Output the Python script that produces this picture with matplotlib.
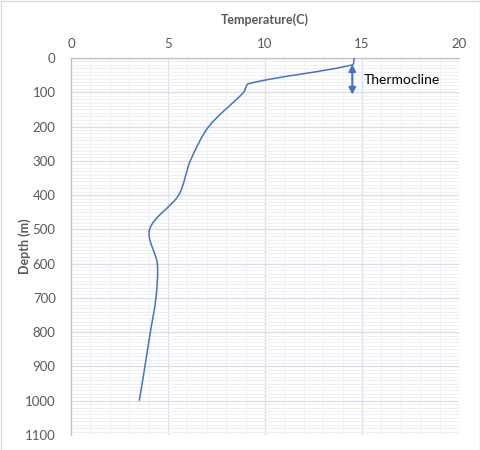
import matplotlib.pyplot as plt
from matplotlib.path import Path
from matplotlib.patches import PathPatch, Rectangle
from matplotlib.ticker import MultipleLocator
import numpy as np

# temperature profile
depth = [0, 20, 75, 100, 200, 300, 400, 500, 600, 700, 800, 900, 1000]
temp = [14.6, 14.5, 9.15, 8.9, 7.1, 6.15, 5.55, 4.05, 4.45, 4.38, 4.09, 3.81, 3.52]

x_ticks = [0, 5, 10, 15, 20]
y_ticks = list(range(0, 1101, 100))

# thermocline marker (depth range)
thermo_top = 18
thermo_bottom = 107

BLUE = '#4472C4'
GREY = '#595959'


def smooth_path(xs, ys, sx, sy, k=0.3):
    """Smoothed line through the points, tangents worked out in pixel space."""
    pts = np.column_stack([np.asarray(xs) * sx, np.asarray(ys) * sy]).astype(float)
    n = len(pts)
    tang = []
    for i in range(n):
        a = pts[max(i - 1, 0)]
        b = pts[min(i + 1, n - 1)]
        d = b - a
        tang.append(d / np.hypot(*d))
    verts = [pts[0]]
    codes = [Path.MOVETO]
    for i in range(n - 1):
        seg = np.hypot(*(pts[i + 1] - pts[i]))
        c1 = pts[i] + tang[i] * seg * k
        c2 = pts[i + 1] - tang[i + 1] * seg * k
        verts += [c1, c2, pts[i + 1]]
        codes += [Path.CURVE4] * 3
    verts = np.array(verts) / [sx, sy]
    return Path(verts, codes)


plt.rcParams['font.family'] = ['Lato', 'DejaVu Sans']

fig = plt.figure(figsize=(4.81, 4.5), dpi=100)
ax = fig.add_axes([71 / 481, 1 - 435 / 450, (459 - 71) / 481, (435 - 58) / 450])

ax.set_xlim(0, 20)
ax.set_ylim(1100, 0)

px_x = 388 / 20
px_y = 377 / 1100
ax.add_patch(PathPatch(smooth_path(temp, depth, px_x, px_y), facecolor='none',
                       edgecolor=BLUE, lw=1.1, zorder=3))

ax.annotate('', xy=(14.5, thermo_top), xytext=(14.5, thermo_bottom),
            arrowprops=dict(arrowstyle='<|-|>', color=BLUE, lw=1.5,
                            mutation_scale=10, shrinkA=0, shrinkB=0), zorder=4)
ax.text(15.1, (thermo_top + thermo_bottom) / 2 + 2, 'Thermocline', fontsize=10,
        color='black', va='center', ha='left')

# axes / grid styling
ax.xaxis.tick_top()
ax.xaxis.set_label_position('top')
ax.set_xticks(x_ticks)
ax.set_yticks(y_ticks)
ax.xaxis.set_minor_locator(MultipleLocator(1))
ax.yaxis.set_minor_locator(MultipleLocator(10))
ax.tick_params(which='both', length=0)
ax.tick_params(axis='x', pad=6, labelsize=9.5, labelcolor=GREY)
ax.tick_params(axis='y', pad=11, labelsize=9.5, labelcolor=GREY)
ax.grid(which='major', color='#D9DDE6', lw=0.9)
ax.grid(which='minor', color='#EEF0F4', lw=0.7)
ax.set_axisbelow(True)

for side in ['right', 'bottom']:
    ax.spines[side].set_visible(False)
for side in ['left', 'top']:
    ax.spines[side].set_color('#BFBFBF')
    ax.spines[side].set_linewidth(0.9)

ax.set_xlabel('Temperature(C)', fontsize=9, fontweight='bold', color=GREY)
ax.set_ylabel('Depth (m)', fontsize=9, fontweight='bold', color=GREY)
ax.xaxis.set_label_coords(0.5, 1 + (58 - 24) / 377)
ax.yaxis.set_label_coords(-(71 - 31) / 388, 0.5)

fig.patches.append(Rectangle((0.5 / 481, 0.5 / 450), 479.5 / 481, 448.5 / 450,
                             transform=fig.transFigure, fill=False,
                             edgecolor='#D9D9D9', lw=1))

fig.savefig('out.png', dpi=100)
